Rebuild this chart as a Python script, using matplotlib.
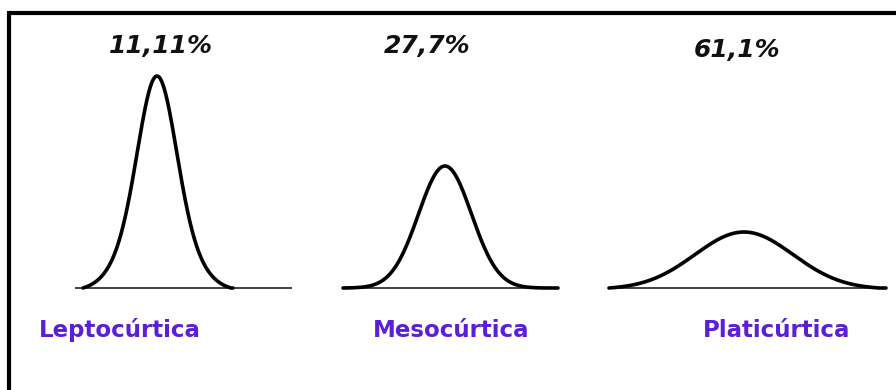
import numpy as np
import matplotlib
matplotlib.use("Agg")
import matplotlib.pyplot as plt

# ---- data ----
labels = ["Leptocúrtica", "Mesocúrtica", "Platicúrtica"]
percent_labels = ["11,11%", "27,7%", "61,1%"]
peak_heights = [212, 122, 56]      # curve height (px units above baseline)
core_sigmas = [18.0, 26.5, 49.0]   # spread of the central part of each curve
tail_sigmas = [29.0, 26.5, 49.0]   # spread of the tails
core_weights = [0.6, 1.0, 1.0]

# ---- layout / style ----
W, H = 896, 390
centers = [157, 445, 744]
curve_ranges = [(83, 233), (343, 558), (609, 886)]
base_ranges = [(75, 292), (343, 558), (609, 886)]
baseline_y = 288
pct_x = [161, 427, 737]
pct_y = [53, 53, 57]
lab_x = [120, 451, 777]
lab_y = 337
purple = "#5a1fd8"

fig = plt.figure(figsize=(W / 100, H / 100), dpi=100)
ax = fig.add_axes([0, 0, 1, 1])
ax.set_xlim(0, W)
ax.set_ylim(H, 0)
ax.axis("off")

# border (top and left)
ax.plot([9, W], [13, 13], color="black", lw=3.0, solid_capstyle="butt")
ax.plot([9, 9], [11, H], color="black", lw=3.0, solid_capstyle="butt")


def shape(x, c, s1, s2, w):
    return (w * np.exp(-0.5 * ((x - c) / s1) ** 2)
            + (1 - w) * np.exp(-0.5 * ((x - c) / s2) ** 2))


for i in range(3):
    c, h = centers[i], peak_heights[i]
    s1, s2, w = core_sigmas[i], tail_sigmas[i], core_weights[i]
    b0, b1 = base_ranges[i]
    ax.plot([b0, b1], [baseline_y, baseline_y], color="#222222", lw=1.2,
            solid_capstyle="butt")
    x0, x1 = curve_ranges[i]
    x = np.linspace(x0, x1, 600)
    g = shape(x, c, s1, s2, w)
    g_end = max(shape(np.array([x0]), c, s1, s2, w)[0],
                shape(np.array([x1]), c, s1, s2, w)[0])
    g = np.clip((g - g_end) / (1 - g_end), 0, None)
    y = baseline_y - h * g
    ax.plot(x, y, color="black", lw=2.6, solid_capstyle="round",
            solid_joinstyle="round")
    ax.text(pct_x[i], pct_y[i], percent_labels[i], ha="center", va="baseline",
            fontsize=18, fontweight="bold", fontstyle="italic",
            family="DejaVu Sans", color="#111111")
    ax.text(lab_x[i], lab_y, labels[i], ha="center", va="baseline",
            fontsize=16.5, fontweight="bold", family="DejaVu Sans", color=purple)

fig.savefig("out.png", dpi=100, facecolor="white")
